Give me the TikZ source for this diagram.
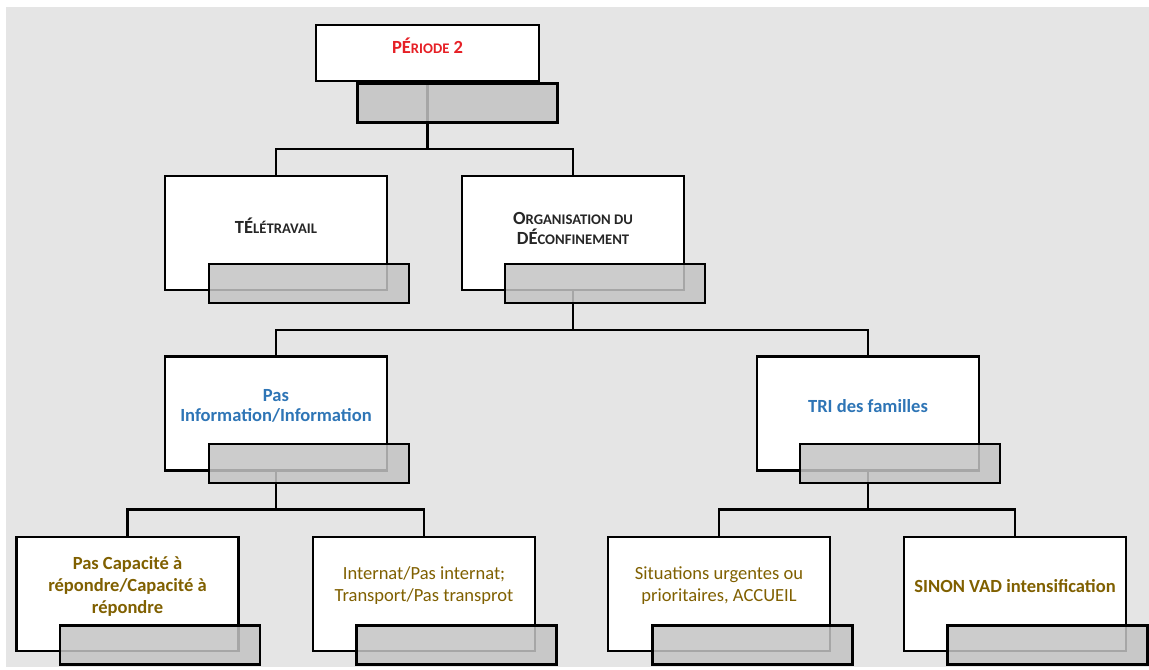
\documentclass[tikz,border=0pt]{standalone}
\usepackage{fontspec}
\setmainfont{Carlito}
\definecolor{bgc}{RGB}{229,229,229}
\definecolor{greyc}{RGB}{196,196,196}
\definecolor{titred}{RGB}{230,32,38}
\definecolor{infoblue}{RGB}{46,117,182}
\definecolor{olivetxt}{RGB}{128,96,0}
\definecolor{darktxt}{RGB}{38,38,38}
\newcommand\mysc[1]{{\fontsize{11}{12}\selectfont #1}}
\begin{document}
\begin{tikzpicture}[x=0.75pt,y=-0.75pt,
  wbox/.style={draw=black, fill=white, line width=2.1pt, inner sep=0pt, outer sep=0pt,
    minimum width=166.5pt, minimum height=85.5pt},
  gbox/.style={draw=black, fill=greyc, fill opacity=0.85, line width=2.1pt, inner sep=0pt,
    outer sep=0pt, minimum width=150pt, minimum height=29.25pt},
  conn/.style={draw=black, line width=2.1pt},
  txt/.style={align=center, inner sep=0pt, font=\fontsize{13.9}{15}\selectfont},
  txtlow/.style={align=center, inner sep=0pt, font=\fontsize{13.9}{16.5}\selectfont}
]
\useasboundingbox (0,0) rectangle (1149,669);
\fill[white] (0,0) rectangle (1149,669);
\fill[bgc] (6,7) rectangle (1149,667);

% white boxes
\node[wbox, minimum width=167.25pt, minimum height=42pt] (top) at (427.5,53) {};
\node[wbox] (tele) at (276,233) {};
\node[wbox] (org) at (573,233) {};
\node[wbox] (info) at (276,413.5) {};
\node[wbox] (tri) at (868,413.5) {};
\node[wbox] (b1) at (127.5,594) {};
\node[wbox] (b2) at (424,594) {};
\node[wbox] (b3) at (719,594) {};
\node[wbox] (b4) at (1015,594) {};

% texts
\node[txt, text=titred, font=\fontsize{13.9}{15}\selectfont\bfseries] (topT) at ([shift={(0,-7)}]top.center) {PÉ\mysc{RIODE} 2};
\node[txt, text=darktxt, font=\fontsize{13.9}{15}\selectfont\bfseries] (teleT) at ([shift={(0,-7)}]tele.center) {TÉ\mysc{LÉTRAVAIL}};
\node[txt, text=darktxt, font=\fontsize{13.9}{15}\selectfont\bfseries] (orgT) at ([shift={(0,-5)}]org.center) {O\mysc{RGANISATION DU}\\DÉ\mysc{CONFINEMENT}};
\node[txt, text=infoblue, font=\fontsize{13.9}{15}\selectfont\bfseries] (infoT) at ([shift={(0,-7.5)}]info.center) {Pas\\Information/Information};
\node[txt, text=infoblue, font=\fontsize{13.9}{15}\selectfont\bfseries] (triT) at ([shift={(0,-7.5)}]tri.center) {TRI des familles};
\node[txtlow, text=olivetxt, font=\fontsize{13.9}{16.5}\selectfont\bfseries] (b1T) at ([shift={(0,-8)}]b1.center) {Pas Capacité à\\répondre/Capacité à\\répondre};
\node[txtlow, text=olivetxt] (b2T) at ([shift={(0,-8)}]b2.center) {Internat/Pas internat;\\Transport/Pas transprot};
\node[txtlow, text=olivetxt] (b3T) at ([shift={(0,-8)}]b3.center) {Situations urgentes ou\\prioritaires, ACCUEIL};
\node[txtlow, text=olivetxt, font=\fontsize{13.9}{16.5}\selectfont\bfseries] (b4T) at ([shift={(0,-8)}]b4.center) {SINON VAD intensification};

% connectors
\draw[conn] (top.south) -- ++(0,68) coordinate (j0) -| (tele.north);
\draw[conn] (j0) -| (org.north);
\draw[conn] (org.south) -- ++(0,40) coordinate (j1) -| (info.north);
\draw[conn] (j1) -| (tri.north);
\draw[conn] (info.south) -- ++(0,39) coordinate (j2) -| (b1.north);
\draw[conn] (j2) -| (b2.north);
\draw[conn] (tri.south) -- ++(0,39) coordinate (j3) -| (b3.north);
\draw[conn] (j3) -| (b4.north);

% grey translucent boxes
\node[gbox] (topG) at ([shift={(30,50)}]top.center) {};
\node[gbox] (teleG) at ([shift={(33,50.5)}]tele.center) {};
\node[gbox] (orgG) at ([shift={(32,50.5)}]org.center) {};
\node[gbox] (infoG) at ([shift={(33,50)}]info.center) {};
\node[gbox] (triG) at ([shift={(32,50)}]tri.center) {};
\node[gbox] (b1G) at ([shift={(32.5,51)}]b1.center) {};
\node[gbox] (b2G) at ([shift={(32.5,51)}]b2.center) {};
\node[gbox] (b3G) at ([shift={(33.5,51)}]b3.center) {};
\node[gbox] (b4G) at ([shift={(32.5,51)}]b4.center) {};
\end{tikzpicture}
\end{document}
